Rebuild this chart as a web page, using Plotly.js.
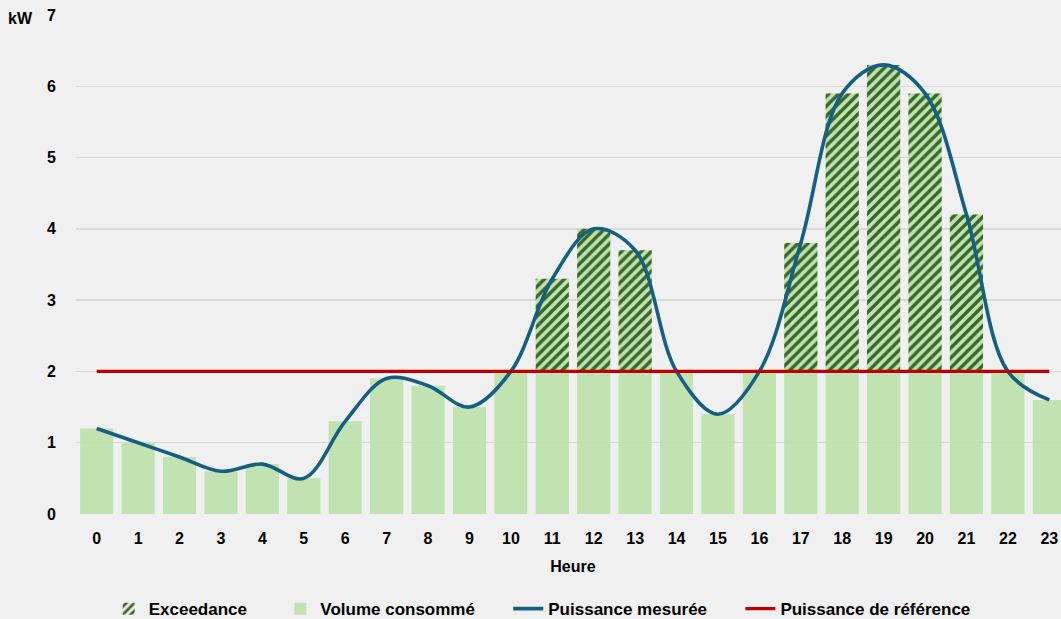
<!DOCTYPE html>
<html>
<head>
<meta charset="utf-8">
<script src="https://cdn.plot.ly/plotly-3.0.1.min.js"></script>
<style>
html,body{margin:0;padding:0;background:#f0f0f0;overflow:hidden;width:1061px;height:619px;}
#chart{width:1080px;height:619px;}
</style>
</head>
<body>
<div id="chart"></div>
<script>
const heures = [0,1,2,3,4,5,6,7,8,9,10,11,12,13,14,15,16,17,18,19,20,21,22,23];
const tickLabels = heures.map(String);
const volumeConsomme = [1.2,1.0,0.8,0.6,0.7,0.5,1.3,1.9,1.8,1.5,2.0,3.3,4.0,3.7,2.0,1.4,2.0,3.8,5.9,6.3,5.9,4.2,2.0,1.6];
const puissanceMesuree = [1.2,1.0,0.8,0.6,0.7,0.5,1.3,1.9,1.8,1.5,2.0,3.3,4.0,3.7,2.0,1.4,2.0,3.8,5.9,6.3,5.9,4.2,2.0,1.6];
const exceedance = [0,0,0,0,0,0,0,0,0,0,0,1.3,2.0,1.7,0,0,0,1.8,3.9,4.3,3.9,2.2,0,0];
const exceedanceBase = 2;
const puissanceReference = [2,2,2,2,2,2,2,2,2,2,2,2,2,2,2,2,2,2,2,2,2,2,2,2];
const legendNames = ['Exceedance', 'Volume consommé', 'Puissance mesurée', 'Puissance de référence'];
const pad = '\u00a0\u00a0\u00a0\u00a0\u00a0\u00a0';

const font = {family: 'Liberation Sans, Arial, sans-serif', size: 16, color: '#000', weight: 'bold'};

const hatch = {
  type: 'bar', name: legendNames[0] + pad, x: heures, y: exceedance, base: exceedanceBase,
  marker: {color: 'rgba(0,0,0,0)', pattern: {shape: '/', fgcolor: '#37662a', bgcolor: 'rgba(0,0,0,0)', size: 7, solidity: 0.48}, line: {width: 0}},
  width: 0.8, legendrank: 1
};
const volume = {
  type: 'bar', name: legendNames[1] + pad, x: heures, y: volumeConsomme,
  marker: {color: 'rgba(185,225,166,0.86)', line: {width: 0}},
  width: 0.8, legendrank: 2
};
const mesuree = {
  type: 'scatter', mode: 'lines', name: legendNames[2] + pad, x: heures, y: puissanceMesuree,
  line: {color: '#156082', width: 3.6, shape: 'spline', smoothing: 1}, legendrank: 3
};
const reference = {
  type: 'scatter', mode: 'lines', name: legendNames[3], x: heures, y: puissanceReference,
  line: {color: '#c00000', width: 3.2}, legendrank: 4
};

const layout = {
  width: 1080, height: 619,
  paper_bgcolor: '#f0f0f0', plot_bgcolor: '#f0f0f0',
  margin: {l: 76, r: 10, t: 15, b: 105},
  barmode: 'overlay',
  font: font,
  showlegend: true,
  legend: {orientation: 'h', x: 0.469, xanchor: 'center', yref: 'container', y: 0.016, yanchor: 'middle',
           font: {family: 'Liberation Sans, Arial, sans-serif', size: 17, color: '#000', weight: 'bold'},
           traceorder: 'normal', bgcolor: 'rgba(0,0,0,0)'},
  xaxis: {
    type: 'linear', range: [-0.5, 23.5], tickmode: 'array', tickvals: heures, ticktext: tickLabels,
    showgrid: false, zeroline: false, showline: false,
    ticks: 'outside', ticklen: 10, tickcolor: 'rgba(0,0,0,0)',
    tickfont: font,
    title: {text: 'Heure', font: font, standoff: 14}
  },
  yaxis: {
    range: [0, 7], dtick: 1, tick0: 0,
    showgrid: true, gridcolor: '#d9d9d9', gridwidth: 1.5, zeroline: false, showline: false,
    ticks: 'outside', ticklen: 16, tickcolor: 'rgba(0,0,0,0)',
    tickfont: font
  },
  annotations: [
    {text: 'kW', xref: 'paper', yref: 'paper', x: -0.041, y: 0.993, xanchor: 'right', yanchor: 'middle',
     showarrow: false, font: font}
  ]
};

Plotly.newPlot('chart', [volume, hatch, mesuree, reference], layout, {displayModeBar: false, staticPlot: true});
</script>
</body>
</html>
